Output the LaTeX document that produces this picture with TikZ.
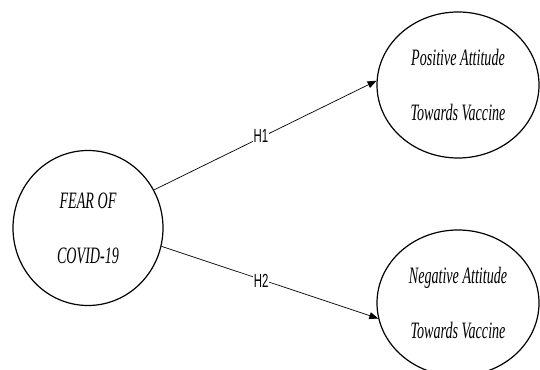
\documentclass[tikz,border=0pt]{standalone}
\usepackage{xcolor}
\usepackage{fontspec}
\usepackage{tikz}
\usetikzlibrary{shapes.geometric, arrows.meta}
\newfontfamily\ovalfont[FakeStretch=0.6]{Liberation Serif}
\newfontfamily\hypfont[FakeStretch=0.6]{Liberation Sans}

\begin{document}
\begin{tikzpicture}[x=1pt, y=1pt,
        construct/.style={draw, ellipse, line width=1.2pt, inner sep=0pt, align=center,
            font=\ovalfont\itshape\fontsize{23.5}{55}\selectfont},
        hyp/.style={-{Triangle[length=9pt, width=7pt]}, line width=0.7pt},
        hyplabel/.style={fill=white, inner sep=0.5pt, font=\hypfont\fontsize{19}{19}\selectfont}]
        \clip (0, 0) rectangle (540, 369);
        \node[construct, minimum width=150, minimum height=155] at (88, 141) (fear) {FEAR OF\\COVID-19};
        \node[construct, minimum width=162, minimum height=146] at (458, 284) (pos) {Positive Attitude\\Towards Vaccine};
        \node[construct, minimum width=162, minimum height=146] at (458, 66) (neg) {Negative Attitude\\Towards Vaccine};

        \draw[hyp] (fear.30) -- node[hyplabel, pos=0.48, yshift=2] {H1} (pos.177);
        \draw[hyp] (fear.-14) -- node[hyplabel, pos=0.46, yshift=-1] {H2} (neg.191);
    \end{tikzpicture}
\end{document}
